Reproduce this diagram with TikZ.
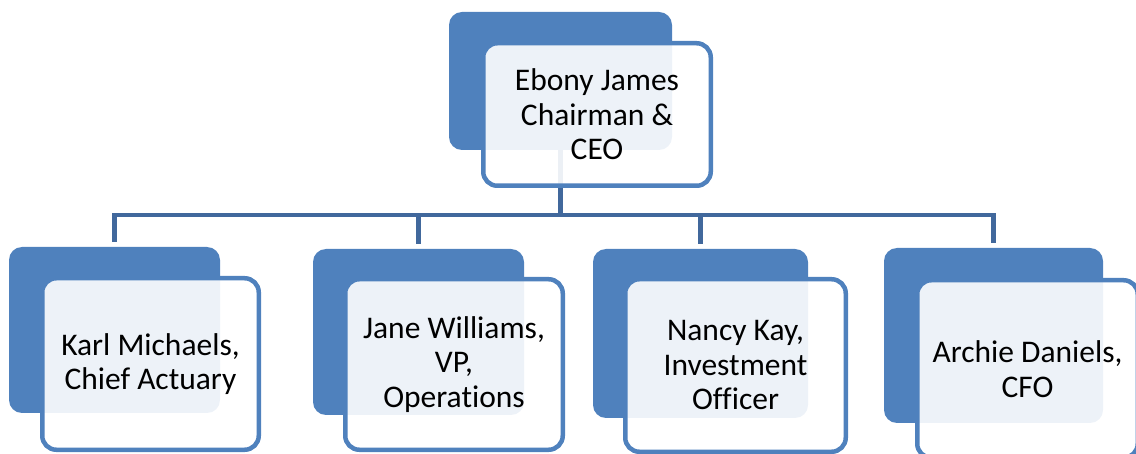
\documentclass[tikz,border=0pt]{standalone}
\usepackage{fontspec}
\setmainfont{Carlito}[Ligatures={NoCommon}]
\definecolor{accent}{HTML}{4F81BD}
\definecolor{connblue}{HTML}{41689C}
\begin{document}
\begin{tikzpicture}[x=1pt,y=-1pt,
  backbox/.style={fill=accent, draw=none, rounded corners=13pt, inner sep=0pt},
  frontbox/.style={fill=white, fill opacity=0.9, text opacity=1, draw=accent, draw opacity=1,
    line width=4.5pt, rounded corners=14pt, inner sep=0pt, align=center,
    font=\fontsize{31.5}{34.5}\selectfont},
  conn/.style={draw=connblue, line width=4.5pt, line join=miter}]
\useasboundingbox (0,0) rectangle (1136,454);
\clip (0,0) rectangle (1136,454);
% back boxes
\node[backbox, minimum width=223pt, minimum height=138pt] (ceoB) at (560.5,81) {};
\node[backbox, minimum width=211pt, minimum height=166pt] (karlB) at (114.5,330) {};
\node[backbox, minimum width=211pt, minimum height=166pt] (janeB) at (418.5,332) {};
\node[backbox, minimum width=215pt, minimum height=169pt] (nancyB) at (700.5,333.5) {};
\node[backbox, minimum width=219pt, minimum height=175pt] (archieB) at (993.5,335.5) {};
% connectors
\path (ceoB.south) ++(0,65) coordinate (bus);
\foreach \c in {karlB,janeB,nancyB,archieB}
  \draw[conn] (ceoB.south) -- (bus) -| ([yshift=5pt]\c.north);
% front boxes
\node[frontbox, minimum width=227.5pt, minimum height=142.5pt] (ceo) at (597,114.5) {Ebony James\\Chairman \&\\CEO};
\node[frontbox, minimum width=216.5pt, minimum height=171.5pt] (karl) at (150.5,364) {Karl Michaels,\\Chief Actuary};
\node[frontbox, minimum width=217.5pt, minimum height=170.5pt] (jane) at (454,364.5) {Jane Williams,\\VP,\\Operations};
\node[frontbox, minimum width=220.5pt, minimum height=172.5pt] (nancy) at (735.5,365.5) {Nancy Kay,\\Investment\\Officer};
\node[frontbox, minimum width=220.5pt, minimum height=177.5pt] (archie) at (1027.5,369) {Archie Daniels,\\CFO};
\end{tikzpicture}
\end{document}
